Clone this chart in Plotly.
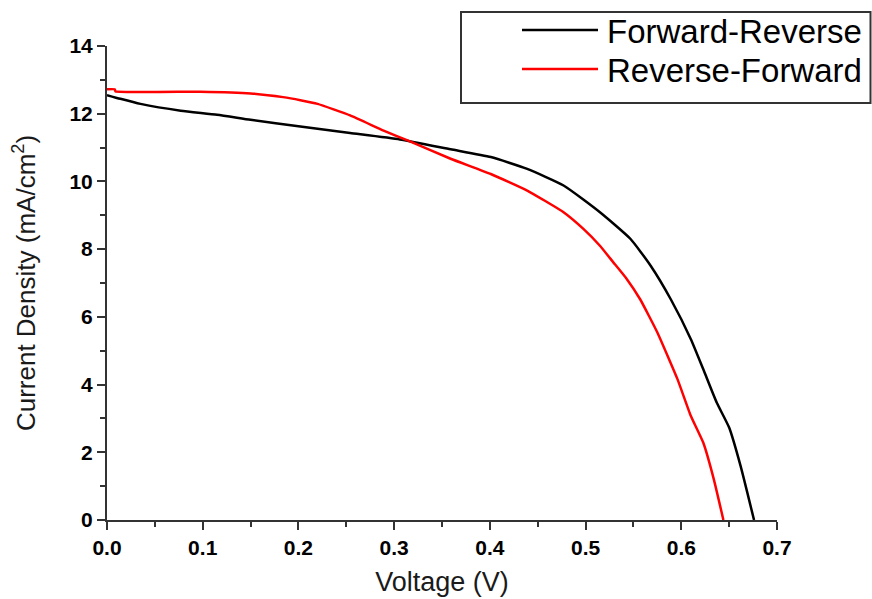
import plotly.graph_objects as go

# ---- data ----
fr_voltage = [0.0, 0.014, 0.035, 0.077, 0.115, 0.15, 0.202, 0.254, 0.306, 0.359, 0.401, 0.439, 0.477,
              0.515, 0.547, 0.568, 0.589, 0.610, 0.623, 0.637, 0.650, 0.662, 0.676]
fr_current = [12.55, 12.44, 12.29, 12.09, 11.97, 11.82, 11.62, 11.43, 11.24, 10.95, 10.72, 10.37, 9.88,
              9.09, 8.30, 7.51, 6.52, 5.34, 4.45, 3.47, 2.73, 1.59, 0.0]

rf_voltage = [0.0, 0.008, 0.009, 0.0975, 0.15, 0.184, 0.202, 0.22, 0.254, 0.289, 0.314, 0.359,
              0.401, 0.439, 0.477, 0.498, 0.515, 0.529, 0.543, 0.557, 0.575, 0.596,
              0.610, 0.623, 0.634, 0.644]
rf_current = [12.72, 12.72, 12.66, 12.65, 12.60, 12.49, 12.40, 12.29, 11.95, 11.5, 11.21, 10.67,
              10.22, 9.73, 9.09, 8.59, 8.10, 7.61, 7.12, 6.52, 5.54, 4.16,
              3.07, 2.28, 1.20, 0.0]

series_names = ["Forward-Reverse", "Reverse-Forward"]
series_colors = ["#000000", "#ff0000"]

W, H = 872, 599
ML, MR, MT, MB = 107, 95, 46, 79

fig = go.Figure()
fig.add_trace(go.Scatter(x=fr_voltage, y=fr_current, mode="lines", name=series_names[0],
                         line=dict(color=series_colors[0], width=2.5, shape="spline", smoothing=0.5),
                         showlegend=False))
fig.add_trace(go.Scatter(x=rf_voltage, y=rf_current, mode="lines", name=series_names[1],
                         line=dict(color=series_colors[1], width=2.5, shape="spline", smoothing=0.4),
                         showlegend=False))

tickfont = dict(family="Liberation Sans, Arial, sans-serif", size=21, color="#000000")
xtitlefont = dict(family="Liberation Sans, Arial, sans-serif", size=27, color="#1a1a1a")
ytitlefont = dict(family="Liberation Sans, Arial, sans-serif", size=26, color="#1a1a1a")

fig.update_xaxes(range=[0, 0.7], dtick=0.1, tickformat=".1f", showgrid=False, zeroline=False,
                 showline=True, linecolor="#333333", linewidth=2,
                 ticks="outside", ticklen=8, tickwidth=2, tickcolor="#333333",
                 minor=dict(dtick=0.05, ticks="outside", ticklen=5, tickwidth=2, tickcolor="#333333"),
                 tickfont=tickfont, tickprefix="<b>", ticksuffix="</b>",
                 title=dict(text="Voltage (V)", font=xtitlefont, standoff=14))
fig.update_yaxes(range=[0, 14], dtick=2, showgrid=False, zeroline=False,
                 showline=True, linecolor="#333333", linewidth=2,
                 ticks="outside", ticklen=8, tickwidth=2, tickcolor="#333333",
                 minor=dict(dtick=1, ticks="outside", ticklen=5, tickwidth=2, tickcolor="#333333"),
                 tickfont=tickfont, tickprefix="<b>", ticksuffix="</b>",
                 title=dict(text="Current Density (mA/cm<sup>2</sup>)", font=ytitlefont, standoff=26))

# manual legend (box, sample lines, labels) positioned in pixels
PW, PH = W - ML - MR, H - MT - MB
def px(xp):
    return (xp - ML) / PW
def py(yp):
    return (H - MB - yp) / PH

fig.add_shape(type="rect", xref="paper", yref="paper", x0=px(461), x1=px(870.5), y0=py(103), y1=py(12),
              line=dict(color="#333333", width=2), fillcolor="white", layer="above")
legend_rows = [31, 70]
legfont = dict(family="Liberation Sans, Arial, sans-serif", size=33, color="#000000")
for name, color, yrow in zip(series_names, series_colors, legend_rows):
    fig.add_shape(type="line", xref="paper", yref="paper", x0=px(522), x1=px(598), y0=py(yrow - 1), y1=py(yrow - 1),
                  line=dict(color=color, width=2.5), layer="above")
    fig.add_annotation(xref="paper", yref="paper", x=px(605), y=py(yrow), text=name, showarrow=False,
                       xanchor="left", yanchor="middle", font=legfont)

fig.update_layout(width=W, height=H, margin=dict(l=ML, r=MR, t=MT, b=MB, autoexpand=False),
                  paper_bgcolor="white", plot_bgcolor="white", showlegend=False)

fig.write_html("out.html", config={"displayModeBar": False},
               post_script="document.body.style.margin='0';document.body.style.overflow='hidden';")
